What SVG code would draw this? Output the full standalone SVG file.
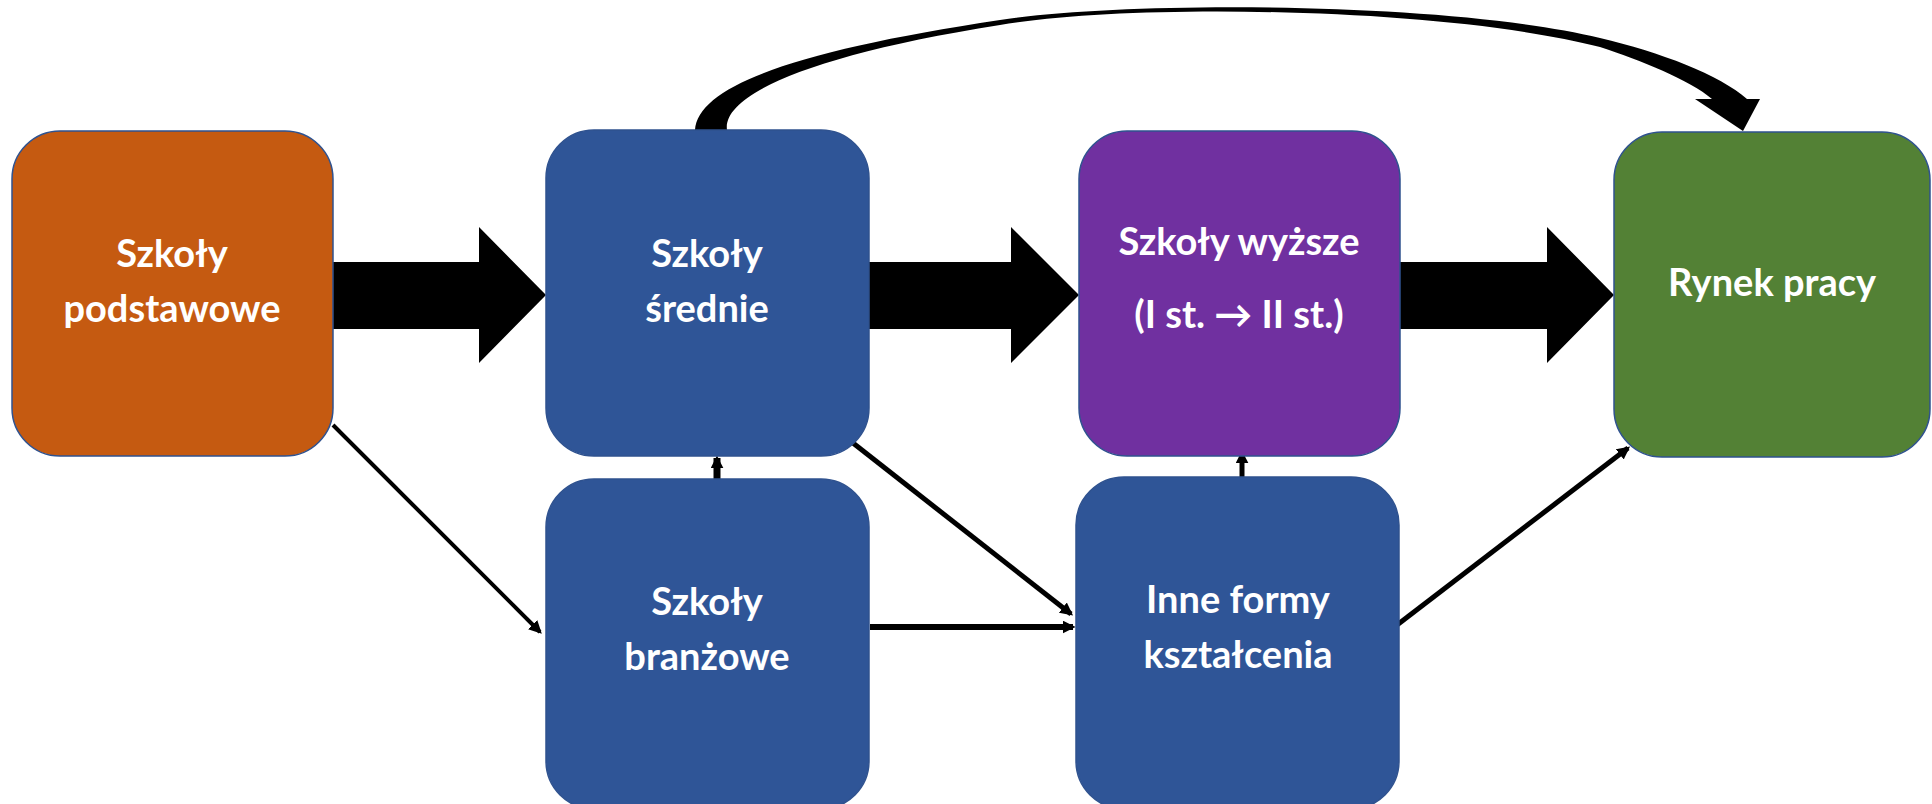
<svg xmlns="http://www.w3.org/2000/svg" width="1932" height="804" viewBox="0 0 1932 804">
<style>
.box{stroke:#2F528F;stroke-width:1.5}
.t{font-family:Lato,"Noto Sans","Liberation Sans",sans-serif;font-weight:700;font-size:38px;fill:#FFFFFF;text-anchor:middle}
.thin{stroke:#000;fill:none;marker-end:url(#ah)}
</style>
<defs>
<marker id="ah" viewBox="0 0 10 10" markerWidth="13" markerHeight="13" markerUnits="userSpaceOnUse" refX="8" refY="5" orient="auto">
<path d="M0,0 L10,5 L0,10 z" fill="#000"/>
</marker>
</defs>
<rect width="1932" height="804" fill="#FFFFFF"/>
<g id="connectors">
<polygon points="333,262 479,262 479,227 546,295 479,363 479,329 333,329" fill="#000"/>
<polygon points="869,262 1011,262 1011,227 1079,295 1011,363 1011,329 869,329" fill="#000"/>
<polygon points="1400,262 1547,262 1547,227 1614,295 1547,363 1547,329 1400,329" fill="#000"/>
<path d="M695,130 C698,85 800,50 1000,20 C1133,0 1450,2 1600,38 C1660,52 1720,75 1747,99 L1760,99 L1743,131 L1695,99 L1712,99 C1690,80 1640,60 1600,47 C1450,8 1135,2 1000,25 C810,55 722,95 727,130 Z" fill="#000"/>
<line class="thin" x1="333" y1="425" x2="540" y2="632" stroke-width="4"/>
<line class="thin" x1="717" y1="482" x2="717" y2="458" stroke-width="7"/>
<line class="thin" x1="853" y1="443" x2="1071" y2="614" stroke-width="5"/>
<line class="thin" x1="870" y1="627" x2="1073" y2="627" stroke-width="6"/>
<line class="thin" x1="1242" y1="478" x2="1242" y2="453" stroke-width="5"/>
<line class="thin" x1="1397" y1="625" x2="1628" y2="448" stroke-width="5"/>
</g>
<g id="node-podstawowe">
<rect class="box" x="12" y="131" width="321" height="325" rx="48" fill="#C55A11"/>
<text class="t" x="172" y="267">Szkoły</text>
<text class="t" x="172" y="322">podstawowe</text>
</g>
<g id="node-srednie">
<rect class="box" x="546" y="130" width="323" height="326" rx="48" fill="#2F5597"/>
<text class="t" x="707" y="267">Szkoły</text>
<text class="t" x="707" y="322">średnie</text>
</g>
<g id="node-wyzsze">
<rect class="box" x="1079" y="131" width="321" height="325" rx="48" fill="#7030A0"/>
<text class="t" x="1239" y="255">Szkoły wyższe</text>
<text class="t" x="1239" y="328">(I st. → II st.)</text>
</g>
<g id="node-rynek">
<rect class="box" x="1614" y="132" width="316" height="325" rx="48" fill="#538135"/>
<text class="t" x="1772" y="296">Rynek pracy</text>
</g>
<g id="node-branzowe">
<rect class="box" x="546" y="479" width="323" height="330" rx="48" fill="#2F5597"/>
<text class="t" x="707" y="615">Szkoły</text>
<text class="t" x="707" y="670">branżowe</text>
</g>
<g id="node-inne">
<rect class="box" x="1076" y="477" width="323" height="332" rx="48" fill="#2F5597"/>
<text class="t" x="1238" y="613">Inne formy</text>
<text class="t" x="1238" y="668">kształcenia</text>
</g>
</svg>
